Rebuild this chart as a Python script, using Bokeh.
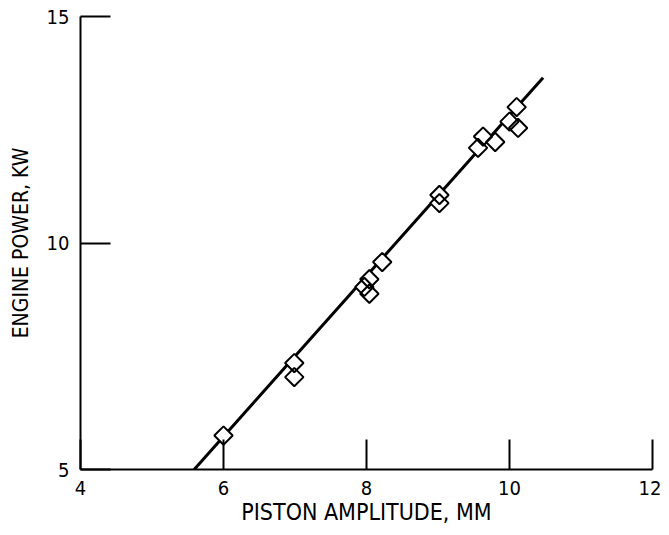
import numpy as np
from bokeh.plotting import figure
from bokeh.models import Range1d, FixedTicker
from bokeh.embed import file_html
from bokeh.resources import INLINE

# data
amplitude_mm = [6.0, 6.99, 6.99, 7.97, 8.04, 8.04, 8.22, 9.02, 9.02,
                9.56, 9.63, 9.80, 10.00, 10.10, 10.12]
power_kw = [5.75, 7.35, 7.04, 9.03, 9.20, 8.88, 9.58, 11.06, 10.88,
            12.10, 12.35, 12.23, 12.68, 13.00, 12.54]
fit_x = [5.59, 10.47]
fit_y = [5.0, 13.65]
x_ticks = [4, 6, 8, 10, 12]
y_ticks = [5, 10, 15]

FONT = "DejaVu Sans Condensed"

p = figure(frame_width=572, frame_height=453, output_backend="svg",
           toolbar_location=None, x_range=Range1d(4, 12), y_range=Range1d(5, 15),
           min_border_left=80, min_border_top=16, min_border_right=9, min_border_bottom=60)
p.outline_line_color = None
p.grid.visible = False

p.line(fit_x, fit_y, line_color="black", line_width=3)
p.scatter(amplitude_mm, power_kw, marker="square", angle=np.pi / 4, size=13,
          fill_color="white", line_color=None)
p.scatter(amplitude_mm, power_kw, marker="square", angle=np.pi / 4, size=13,
          fill_color=None, line_color="black", line_width=2)

for ax in (p.xaxis[0], p.yaxis[0]):
    ax.major_tick_in = 30
    ax.major_tick_out = 0
    ax.minor_tick_in = 0
    ax.minor_tick_out = 0
    ax.axis_line_color = "black"
    ax.axis_line_width = 2
    ax.major_tick_line_width = 2
    ax.major_tick_line_color = "black"
    ax.major_label_text_font = FONT
    ax.major_label_text_font_size = "20px"
    ax.major_label_text_color = "black"
    ax.axis_label_text_font = FONT
    ax.axis_label_text_font_style = "normal"
    ax.axis_label_text_color = "black"

p.xaxis.ticker = FixedTicker(ticks=x_ticks)
p.yaxis.ticker = FixedTicker(ticks=y_ticks)
p.xaxis.axis_label = "PISTON AMPLITUDE, MM"
p.yaxis.axis_label = "ENGINE POWER, KW"
p.xaxis.axis_label_text_font_size = "23px"
p.yaxis.axis_label_text_font_size = "21px"
p.xaxis.major_label_standoff = 11
p.yaxis.major_label_standoff = 11
p.xaxis.axis_label_standoff = 1
p.yaxis.axis_label_standoff = 11

open("out.html", "w").write(file_html(p, INLINE))
